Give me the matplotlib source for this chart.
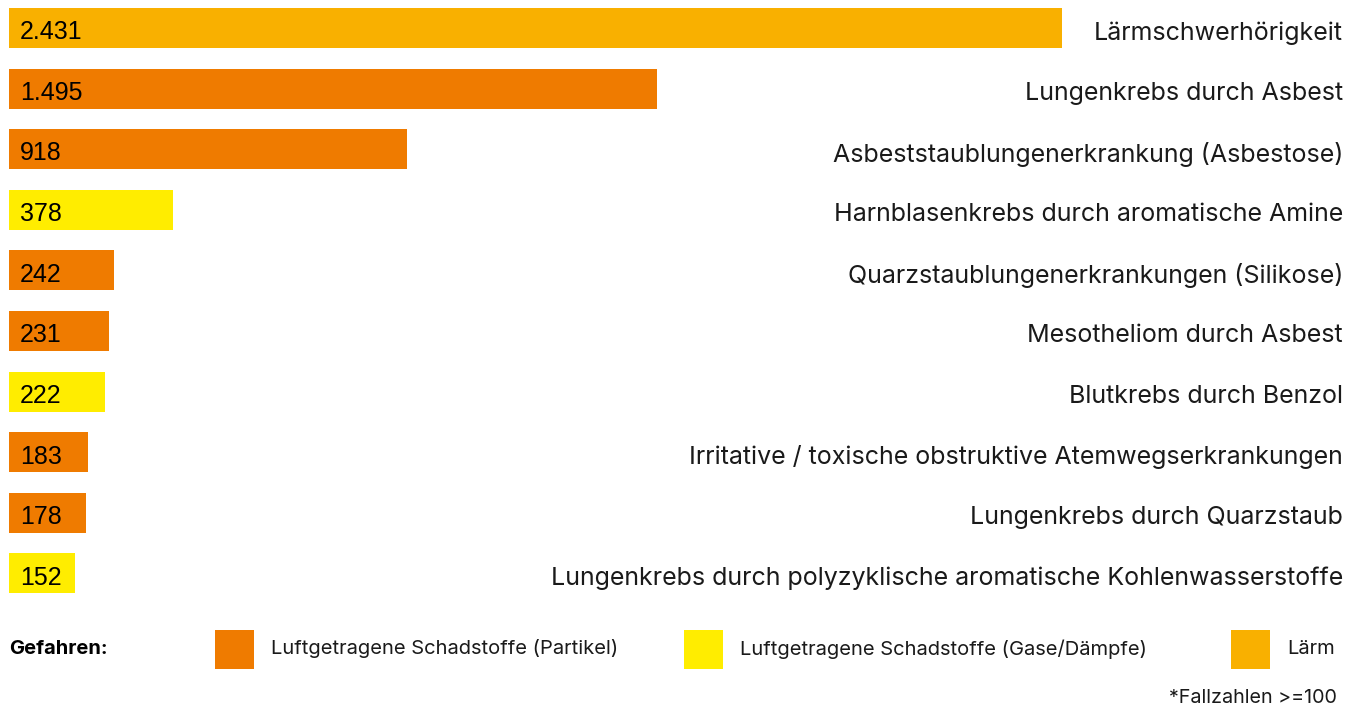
import matplotlib
matplotlib.use("Agg")
import matplotlib.pyplot as plt
from matplotlib.patches import Rectangle
from matplotlib.transforms import blended_transform_factory

# data
krankheiten = [
    "Lärmschwerhörigkeit",
    "Lungenkrebs durch Asbest",
    "Asbeststaublungenerkrankung (Asbestose)",
    "Harnblasenkrebs durch aromatische Amine",
    "Quarzstaublungenerkrankungen (Silikose)",
    "Mesotheliom durch Asbest",
    "Blutkrebs durch Benzol",
    "Irritative / toxische obstruktive Atemwegserkrankungen",
    "Lungenkrebs durch Quarzstaub",
    "Lungenkrebs durch polyzyklische aromatische Kohlenwasserstoffe",
]
fallzahlen = [2431, 1495, 918, 378, 242, 231, 222, 183, 178, 152]
wert_labels = ["2.431", "1.495", "918", "378", "242", "231", "222", "183", "178", "152"]
gefahr = ["laerm", "partikel", "partikel", "gase", "partikel",
          "partikel", "gase", "partikel", "partikel", "gase"]

gefahr_farben = {
    "partikel": "#EF7B00",
    "gase": "#FFED00",
    "laerm": "#F9B000",
}
legend_labels = {
    "partikel": "Luftgetragene Schadstoffe (Partikel)",
    "gase": "Luftgetragene Schadstoffe (Gase/Dämpfe)",
    "laerm": "Lärm",
}

W, H = 1349, 709
fig = plt.figure(figsize=(W / 100, H / 100), dpi=100)

# axes placed so that bars line up with the reference layout
ax_top, ax_bottom = 0, 603
ax = fig.add_axes([9 / W, 1 - ax_bottom / H, (W - 9) / W, (ax_bottom - ax_top) / H])

pos = list(range(len(fallzahlen)))
ax.barh(pos, fallzahlen, height=0.66, color=[gefahr_farben[g] for g in gefahr], linewidth=0)
ax.set_xlim(0, 2431 * 1340 / 1053)
ax.set_ylim(9.487, -0.462)
ax.axis("off")

label_font = "Inter"
trans = blended_transform_factory(fig.transFigure, ax.transData)
trans_ax = blended_transform_factory(ax.transAxes, ax.transData)
for i, (name, txt) in enumerate(zip(krankheiten, wert_labels)):
    ax.text(1343 / W, i + 0.08, name, transform=trans, ha="right", va="center",
            fontsize=18, family=label_font, color="#1a1a1a")
    ax.text(11 / 1340, i + 0.07, txt, transform=trans_ax, ha="left", va="center",
            fontsize=18, family="Liberation Sans", color="black")

# legend row
leg_y = 649
fig.text(9 / W, 1 - leg_y / H, "Gefahren:", fontsize=14.5, fontweight="bold",
         family=label_font, va="center", ha="left")
legend_items = [("partikel", 215, 271), ("gase", 684, 740), ("laerm", 1231, 1287)]
for key, box_x, text_x in legend_items:
    fig.patches.append(Rectangle((box_x / W, 1 - 669 / H), 39 / W, 39 / H,
                                 transform=fig.transFigure, color=gefahr_farben[key],
                                 linewidth=0))
    fig.text(text_x / W, 1 - leg_y / H, legend_labels[key], fontsize=14.5,
             family=label_font, va="center", ha="left", color="#1a1a1a")

fig.text(1337 / W, 1 - 698 / H, "*Fallzahlen >=100", fontsize=14.2,
         family=label_font, va="center", ha="right", color="#1a1a1a")

fig.savefig("out.png", dpi=100)
